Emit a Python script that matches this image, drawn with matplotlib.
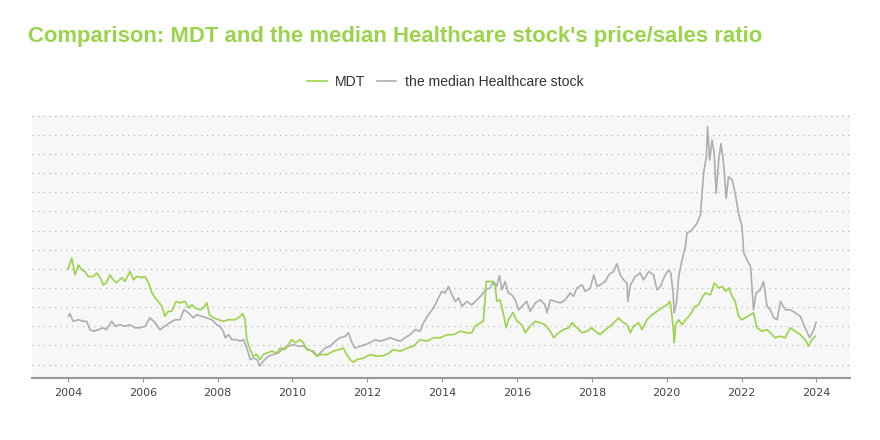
import matplotlib
matplotlib.use('Agg')
import matplotlib.pyplot as plt

# MDT price/sales ratio
mdt_x = [2004.00, 2004.10, 2004.19, 2004.28, 2004.37, 2004.45, 2004.54, 2004.68, 2004.77, 2004.86,
         2004.94, 2005.03, 2005.12, 2005.21, 2005.30, 2005.44, 2005.52, 2005.66, 2005.75, 2005.84,
         2005.97, 2006.06, 2006.15, 2006.24, 2006.33, 2006.41, 2006.51, 2006.59, 2006.68, 2006.77,
         2006.89, 2006.99, 2007.13, 2007.22, 2007.31, 2007.40, 2007.53, 2007.62, 2007.71, 2007.78,
         2007.89, 2008.02, 2008.15, 2008.29, 2008.47, 2008.60, 2008.67, 2008.73, 2008.78, 2008.87,
         2008.95, 2009.05, 2009.13, 2009.22, 2009.31, 2009.45, 2009.58, 2009.67, 2009.80, 2009.89,
         2009.98, 2010.07, 2010.20, 2010.29, 2010.38, 2010.52, 2010.65, 2010.74, 2010.92, 2011.09,
         2011.23, 2011.36, 2011.45, 2011.54, 2011.63, 2011.72, 2011.90, 2012.07, 2012.25, 2012.43,
         2012.56, 2012.70, 2012.88, 2013.06, 2013.23, 2013.41, 2013.59, 2013.77, 2013.95, 2014.13,
         2014.30, 2014.48, 2014.66, 2014.79, 2014.88, 2015.02, 2015.10, 2015.15, 2015.18, 2015.33,
         2015.42, 2015.46, 2015.55, 2015.64, 2015.71, 2015.77, 2015.89, 2016.00, 2016.13, 2016.22,
         2016.35, 2016.49, 2016.62, 2016.75, 2016.89, 2016.98, 2017.11, 2017.24, 2017.38, 2017.47,
         2017.60, 2017.74, 2017.87, 2018.00, 2018.09, 2018.22, 2018.36, 2018.49, 2018.63, 2018.71,
         2018.80, 2018.94, 2019.03, 2019.11, 2019.25, 2019.34, 2019.47, 2019.61, 2019.74, 2019.87,
         2020.01, 2020.08, 2020.11, 2020.17, 2020.20, 2020.24, 2020.32, 2020.41, 2020.50, 2020.59,
         2020.68, 2020.76, 2020.85, 2020.94, 2021.03, 2021.17, 2021.27, 2021.39, 2021.48, 2021.57,
         2021.66, 2021.75, 2021.83, 2021.92, 2022.01, 2022.10, 2022.24, 2022.32, 2022.41, 2022.55,
         2022.68, 2022.77, 2022.90, 2023.04, 2023.17, 2023.30, 2023.44, 2023.57, 2023.70, 2023.79,
         2023.88, 2023.97]
mdt_y = [3.49, 3.78, 3.34, 3.60, 3.47, 3.43, 3.30, 3.30, 3.39, 3.27,
         3.08, 3.14, 3.34, 3.21, 3.14, 3.27, 3.17, 3.43, 3.21, 3.30,
         3.27, 3.30, 3.14, 2.88, 2.74, 2.65, 2.52, 2.26, 2.39, 2.39,
         2.65, 2.61, 2.65, 2.48, 2.56, 2.48, 2.43, 2.48, 2.61, 2.30,
         2.22, 2.17, 2.13, 2.17, 2.17, 2.26, 2.33, 2.17, 1.65, 1.39,
         1.22, 1.26, 1.13, 1.26, 1.30, 1.35, 1.30, 1.43, 1.39, 1.52,
         1.65, 1.57, 1.65, 1.57, 1.39, 1.35, 1.22, 1.26, 1.26, 1.35,
         1.39, 1.43, 1.26, 1.13, 1.06, 1.13, 1.17, 1.26, 1.22, 1.23,
         1.29, 1.39, 1.35, 1.43, 1.48, 1.65, 1.61, 1.70, 1.70, 1.78,
         1.78, 1.87, 1.83, 1.83, 2.00, 2.09, 2.13, 2.78, 3.17, 3.17,
         3.04, 2.65, 2.69, 2.30, 1.96, 2.17, 2.36, 2.13, 2.04, 1.83,
         2.00, 2.13, 2.09, 2.04, 1.87, 1.70, 1.83, 1.91, 1.96, 2.09,
         1.96, 1.83, 1.87, 1.96, 1.87, 1.78, 1.91, 2.00, 2.13, 2.22,
         2.13, 2.04, 1.83, 2.00, 2.09, 1.91, 2.17, 2.30, 2.39, 2.48,
         2.56, 2.65, 2.52, 2.00, 1.57, 2.04, 2.17, 2.04, 2.17, 2.26,
         2.39, 2.52, 2.56, 2.74, 2.87, 2.82, 3.13, 3.00, 3.04, 2.91,
         3.00, 2.78, 2.65, 2.26, 2.17, 2.22, 2.30, 2.35, 1.96, 1.87,
         1.91, 1.83, 1.70, 1.74, 1.70, 1.96, 1.87, 1.78, 1.65, 1.48,
         1.65, 1.74]

# median Healthcare stock price/sales ratio
med_x = [2004.01, 2004.05, 2004.14, 2004.28, 2004.41, 2004.50, 2004.59, 2004.68, 2004.81, 2004.94,
         2005.03, 2005.17, 2005.26, 2005.39, 2005.52, 2005.66, 2005.79, 2005.93, 2006.06, 2006.19,
         2006.33, 2006.46, 2006.59, 2006.72, 2006.86, 2006.99, 2007.10, 2007.22, 2007.35, 2007.44,
         2007.57, 2007.71, 2007.84, 2007.98, 2008.06, 2008.15, 2008.20, 2008.29, 2008.38, 2008.51,
         2008.60, 2008.69, 2008.78, 2008.87, 2008.95, 2009.05, 2009.13, 2009.22, 2009.36, 2009.49,
         2009.62, 2009.76, 2009.89, 2010.02, 2010.16, 2010.29, 2010.43, 2010.56, 2010.65, 2010.74,
         2010.87, 2011.01, 2011.14, 2011.27, 2011.41, 2011.49, 2011.59, 2011.67, 2011.81, 2011.94,
         2012.07, 2012.21, 2012.34, 2012.48, 2012.61, 2012.74, 2012.88, 2013.01, 2013.14, 2013.28,
         2013.41, 2013.50, 2013.63, 2013.77, 2013.90, 2013.99, 2014.08, 2014.17, 2014.26, 2014.35,
         2014.44, 2014.53, 2014.66, 2014.79, 2014.93, 2015.06, 2015.15, 2015.28, 2015.37, 2015.46,
         2015.53, 2015.60, 2015.68, 2015.77, 2015.86, 2015.95, 2016.04, 2016.13, 2016.26, 2016.35,
         2016.49, 2016.62, 2016.75, 2016.80, 2016.89, 2017.02, 2017.16, 2017.29, 2017.42, 2017.51,
         2017.60, 2017.74, 2017.82, 2017.96, 2018.05, 2018.14, 2018.22, 2018.36, 2018.45, 2018.58,
         2018.67, 2018.76, 2018.85, 2018.94, 2018.96, 2019.03, 2019.16, 2019.29, 2019.38, 2019.52,
         2019.65, 2019.74, 2019.83, 2019.96, 2020.05, 2020.11, 2020.17, 2020.20, 2020.26, 2020.32,
         2020.41, 2020.50, 2020.54, 2020.68, 2020.81, 2020.90, 2020.99, 2021.06, 2021.09, 2021.15,
         2021.21, 2021.27, 2021.32, 2021.39, 2021.45, 2021.52, 2021.59, 2021.65, 2021.75, 2021.83,
         2021.92, 2022.01, 2022.06, 2022.15, 2022.24, 2022.32, 2022.39, 2022.50, 2022.59, 2022.68,
         2022.77, 2022.86, 2022.95, 2023.04, 2023.17, 2023.30, 2023.44, 2023.57, 2023.70, 2023.82,
         2023.93, 2023.99]
med_y = [2.26, 2.33, 2.13, 2.17, 2.13, 2.13, 1.91, 1.87, 1.91, 1.96,
         1.91, 2.13, 2.00, 2.04, 2.00, 2.04, 1.96, 1.96, 2.00, 2.22,
         2.09, 1.91, 2.00, 2.09, 2.17, 2.17, 2.43, 2.35, 2.22, 2.30,
         2.26, 2.22, 2.17, 2.04, 2.00, 1.87, 1.70, 1.78, 1.65, 1.65,
         1.61, 1.65, 1.43, 1.13, 1.17, 1.13, 0.97, 1.09, 1.22, 1.26,
         1.30, 1.43, 1.48, 1.52, 1.48, 1.48, 1.39, 1.35, 1.22, 1.30,
         1.43, 1.48, 1.61, 1.70, 1.74, 1.83, 1.57, 1.43, 1.48, 1.52,
         1.57, 1.65, 1.61, 1.65, 1.70, 1.65, 1.61, 1.70, 1.78, 1.91,
         1.87, 2.09, 2.30, 2.48, 2.74, 2.91, 2.87, 3.04, 2.82, 2.65,
         2.74, 2.52, 2.65, 2.56, 2.69, 2.82, 2.95, 3.00, 3.17, 3.04,
         3.32, 2.95, 3.17, 2.87, 2.82, 2.69, 2.43, 2.52, 2.65, 2.39,
         2.61, 2.69, 2.56, 2.35, 2.69, 2.65, 2.61, 2.69, 2.87, 2.78,
         3.00, 3.08, 2.91, 3.00, 3.34, 3.04, 3.08, 3.17, 3.34, 3.43,
         3.63, 3.34, 3.21, 3.13, 2.65, 3.08, 3.30, 3.39, 3.21, 3.43,
         3.34, 2.95, 3.04, 3.34, 3.47, 3.39, 2.87, 2.35, 2.61, 3.30,
         3.73, 4.08, 4.43, 4.52, 4.69, 4.91, 6.03, 6.42, 7.21, 6.34,
         6.86, 6.51, 5.47, 6.34, 6.77, 6.25, 5.34, 5.90, 5.82, 5.47,
         4.95, 4.60, 3.91, 3.73, 3.56, 2.43, 2.87, 2.95, 3.17, 2.52,
         2.43, 2.22, 2.17, 2.65, 2.43, 2.43, 2.35, 2.26, 1.96, 1.70,
         1.91, 2.10]

years = list(range(2004, 2025, 2))
grid_levels = [1.0 + 0.5 * i for i in range(14)]

green = '#9bd34b'
grey = '#aeaeb2'

fig = plt.figure(figsize=(8.8, 4.4), dpi=100)
ax = fig.add_axes([0.0364, 0.141, 0.9296, 0.598])
ax.set_facecolor('#f7f7f7')

ax.plot(med_x, med_y, color=grey, lw=1.2, label='the median Healthcare stock', zorder=3)
ax.plot(mdt_x, mdt_y, color=green, lw=1.2, label='MDT', zorder=4)

ax.set_xlim(2003.04, 2024.9)
ax.set_ylim(0.65, 7.52)
ax.set_yticks(grid_levels)
ax.set_yticklabels([])
ax.tick_params(axis='y', length=0)
ax.grid(axis='y', color='#bbbbbb', linestyle=(0, (1, 3.5)), lw=0.9)
ax.set_xticks(years)
ax.set_xticklabels([str(y) for y in years])
ax.tick_params(axis='x', length=3, color='#999999', labelsize=8, labelcolor='#444444', pad=4)

for s in ['top', 'right', 'left']:
    ax.spines[s].set_visible(False)
ax.spines['bottom'].set_color('#999999')
ax.spines['bottom'].set_linewidth(1.5)

fig.text(0.032, 0.916, "Comparison: MDT and the median Healthcare stock's price/sales ratio",
         color=green, fontsize=15.9, fontweight='bold', family='Liberation Sans', va='center')

h, l = ax.get_legend_handles_labels()
fig.legend(h[::-1], l[::-1], loc='center', bbox_to_anchor=(0.506, 0.814), ncol=2, frameon=False,
           handlelength=1.4, columnspacing=0.8, handletextpad=0.6,
           prop={'family': 'Liberation Sans', 'size': 10.1}, labelcolor='#333333')

plt.savefig('out.png', dpi=100)
